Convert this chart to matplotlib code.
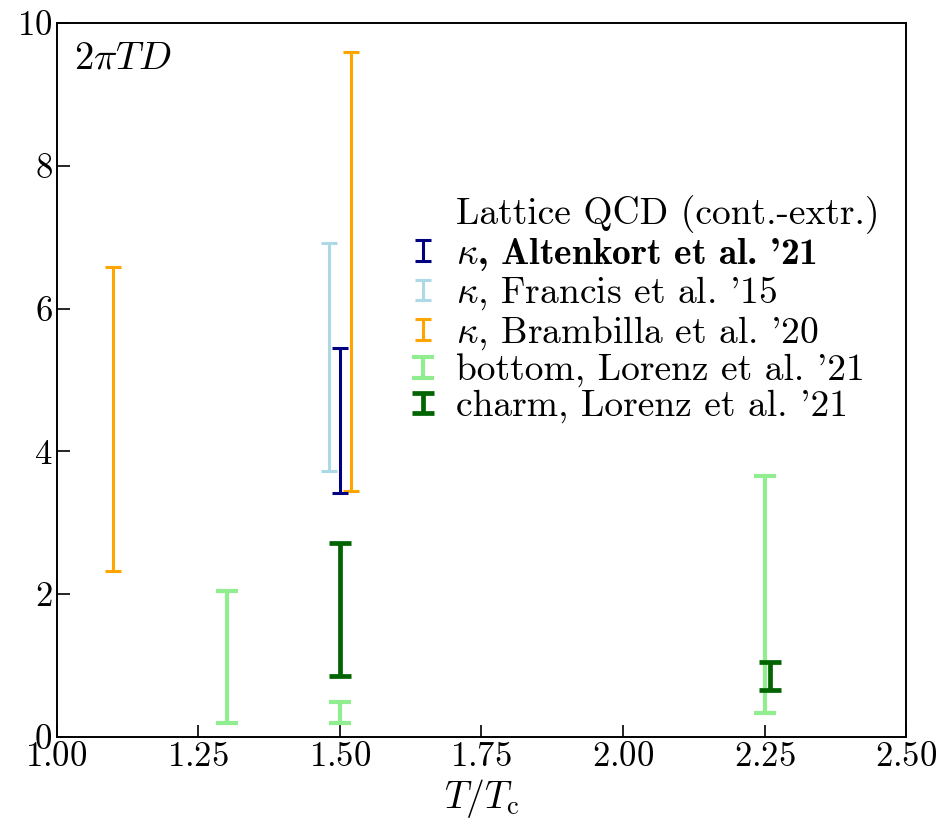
import matplotlib
matplotlib.use("Agg")
import matplotlib.pyplot as plt
from matplotlib.container import ErrorbarContainer
from matplotlib.legend_handler import HandlerErrorbar

plt.rcParams['font.family'] = 'serif'
plt.rcParams['font.serif'] = ['cmr10']
plt.rcParams['mathtext.fontset'] = 'cm'
plt.rcParams['axes.formatter.use_mathtext'] = True

# T/Tc positions and error intervals (lower, upper) of 2 pi T D
x_altenkort = [1.50]
lo_altenkort = [3.42]
hi_altenkort = [5.45]

x_francis = [1.48]
lo_francis = [3.72]
hi_francis = [6.92]

x_brambilla = [1.10, 1.52]
lo_brambilla = [2.32, 3.45]
hi_brambilla = [6.58, 9.60]

x_bottom = [1.30, 1.50, 2.25]
lo_bottom = [0.20, 0.20, 0.34]
hi_bottom = [2.04, 0.49, 3.66]

x_charm = [1.50, 2.26]
lo_charm = [0.85, 0.66]
hi_charm = [2.72, 1.05]


def band(ax, x, lo, hi, color, lw, cap, label, z):
    mid = [(a + b) / 2 for a, b in zip(lo, hi)]
    err = [[m - a for m, a in zip(mid, lo)], [b - m for m, b in zip(mid, hi)]]
    ax.errorbar(x, mid, yerr=err, fmt='none', ecolor=color, elinewidth=lw,
                capsize=cap, capthick=lw, label=label, zorder=z)


fig = plt.figure(figsize=(9.44, 8.27), dpi=100)
ax = fig.add_axes([0.060, 0.109, 0.900, 0.863])

ax.plot([], [], ' ', label='Lattice QCD (cont.-extr.)')
band(ax, x_altenkort, lo_altenkort, hi_altenkort, '#000080', 2.2, 5.5,
     r"$\kappa$, Altenkort et al. '21", 4)
band(ax, x_francis, lo_francis, hi_francis, '#add8e6', 2.2, 5.5,
     r"$\kappa$, Francis et al. '15", 2)
band(ax, x_brambilla, lo_brambilla, hi_brambilla, '#ffa500', 2.2, 5.5,
     r"$\kappa$, Brambilla et al. '20", 3)
band(ax, x_bottom, lo_bottom, hi_bottom, '#90ee90', 3.0, 8.0,
     "bottom, Lorenz et al. '21", 2)
band(ax, x_charm, lo_charm, hi_charm, '#006400', 3.4, 8.0,
     "charm, Lorenz et al. '21", 5)

ax.set_xlim(1.0, 2.5)
ax.set_ylim(0, 10)
ax.set_xticks([1.0, 1.25, 1.5, 1.75, 2.0, 2.25, 2.5])
ax.set_yticks([0, 2, 4, 6, 8, 10])
ax.tick_params(direction='in', length=9, width=1.2, labelsize=25, pad=3)
for s in ax.spines.values():
    s.set_linewidth(1.4)

ax.set_xlabel(r'$T/T_{\mathrm{c}}$', fontsize=27, labelpad=3)
ax.text(0.02, 0.975, r'$2\pi TD$', transform=ax.transAxes, fontsize=28,
        va='top', ha='left')

leg = ax.legend(loc='upper right', bbox_to_anchor=(1.0, 0.796), frameon=False,
                fontsize=27, handlelength=0.5, handleheight=0.7,
                handletextpad=0.65, labelspacing=0.05, borderpad=0.2,
                handler_map={ErrorbarContainer: HandlerErrorbar(xerr_size=0.25, yerr_size=0.27)})
leg.get_texts()[1].set_fontfamily('cmb10')

fig.savefig('out.png', dpi=100)
